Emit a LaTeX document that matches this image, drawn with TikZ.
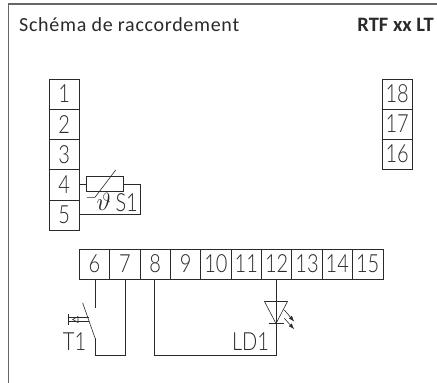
\documentclass[tikz,border=0pt]{standalone}
\usepackage{fontspec}
\setmainfont{Carlito}
\newfontfamily\din[FakeStretch=0.8]{Lato Light}
\newfontfamily\dintitle[LetterSpace=3.5]{Carlito}
\usetikzlibrary{arrows.meta}
\definecolor{ink}{HTML}{2A2A2A}
\tikzset{
  wire/.style={draw=ink,line width=0.8pt},
  thin wire/.style={draw=ink,line width=0.6pt},
  frameline/.style={draw=black!60,line width=1.2pt},
  term/.style={draw=ink,line width=0.8pt,minimum width=30.4pt,minimum height=30.2pt,inner sep=0pt,outer sep=0pt,font=\din\fontsize{25}{25}\selectfont,text=ink,anchor=north west},
  lab/.style={inner sep=0pt,outer sep=0pt,text=ink,font=\din\fontsize{25}{25}\selectfont},
  led arrow/.style={thin wire,-{Latex[length=6pt,width=4pt]}},
}
\begin{document}
\begin{tikzpicture}[x=1pt,y=-1pt]
\useasboundingbox (0,0) rectangle (437,383);
\fill[white] (0,0) rectangle (437,383);
\draw[frameline] (8.5,383) -- (8.5,4) -- (437,4);
\node[inner sep=0pt,anchor=base west,text=ink,font=\dintitle\fontsize{20}{20}\selectfont] (title) at (19,31) {Schéma de raccordement};
\node[inner sep=0pt,anchor=base east,text=ink,font=\bfseries\fontsize{20.5}{20.5}\selectfont] (model) at (434,31) {RTF xx LT};
\foreach \n/\y in {1/79,2/109.3,3/139.5,4/169.7,5/200}
  \node[term] (t\n) at (49,\y) {\raisebox{0.6pt}{\n}};
\foreach \n/\y in {18/79,17/109,16/139}
  \node[term] (t\n) at (382,\y) {\raisebox{0.6pt}{\n}};
\foreach \n/\x in {6/79.3,7/109.7,8/140,9/170.4,10/200.7,11/231.1,12/261.4,13/291.8,14/322.1,15/352.5}
  \node[term,minimum height=30pt] (t\n) at (\x,249) {\raisebox{0.6pt}{\n}};
% S1
\node[draw=ink,line width=0.8pt,minimum width=36.6pt,minimum height=15pt,inner sep=0pt,outer sep=0pt] (res) at (105,184.2) {};
\coordinate (sr) at (140,184.2);
\coordinate (sb) at (140,214);
\draw[wire] (t4.east |- res.west) -- (res.west);
\draw[wire] (res.east) -- (sr) -- (sb) -- (t5.east |- sb);
\draw[thin wire] (87,197.3) -- (95,197.3) -- (115.7,170);
\node[lab,anchor=base west,font=\fontsize{27}{27}\selectfont] (theta) at (96.5,210) {$\vartheta$};
\node[lab,anchor=base west] (s1) at (115.5,211) {S1};
% T1
\coordinate (a6) at (95,307.5);
\coordinate (b6) at (95,338);
\coordinate (c6) at (95,355);
\coordinate (c7) at (125,355);
\draw[wire] (a6 |- t6.south) -- (a6);
\draw[wire] (b6) -- (c6) -- (c7) -- (c7 |- t7.south);
\draw[thin wire] (82.7,303) -- (95,338);
\draw[thin wire] (68.5,317.3) -- (89,317.3);
\draw[thin wire] (68.5,321.7) -- (89,321.7);
\draw[thin wire] (68.5,314) -- (68.5,324.5);
\draw[thin wire] (78,316.5) -- (72.7,319.5) -- (78,322.5) -- cycle;
\node[lab,anchor=base west] (t1) at (63,350) {T1};
% LD1
\coordinate (d8) at (154,355);
\coordinate (d12) at (276,355);
\coordinate (k) at (276,323.5);
\draw[wire] (d8 |- t8.south) -- (d8) -- (d12) -- (k);
\draw[thin wire] (264.5,301.5) -- (287.5,301.5) -- (276,323.5) -- cycle;
\draw[thin wire] (268.5,323.5) -- (284,323.5);
\draw[wire] (k) -- (k |- t12.south);
\draw[led arrow] (284.3,310) -- (294.3,321.7);
\draw[led arrow] (284.3,318.3) -- (294.3,329.3);
\node[lab,anchor=base east] (ld1) at (269,350) {LD1};
\end{tikzpicture}
\end{document}
